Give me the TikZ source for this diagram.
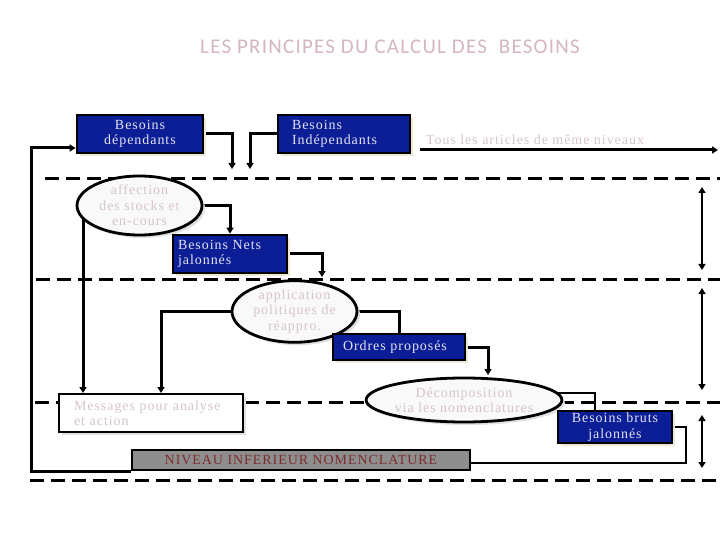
\documentclass[tikz,border=0pt]{standalone}
\usepackage{fontspec}
\setmainfont{Liberation Serif}[LetterSpace=7]
\newfontfamily\titlefont{Carlito}[LetterSpace=6]
\usetikzlibrary{positioning}
\usetikzlibrary{shapes.geometric}
\usetikzlibrary{arrows.meta}
\usetikzlibrary{backgrounds}
\usetikzlibrary{shadows}

\definecolor{boxblue}{RGB}{12,30,150}
\definecolor{boxtext}{RGB}{228,228,242}
\definecolor{palepink}{RGB}{214,196,200}
\definecolor{titlepink}{RGB}{212,182,190}
\definecolor{niveaured}{RGB}{125,45,45}
\definecolor{niveaugray}{RGB}{142,142,142}
\definecolor{ovalfill}{RGB}{249,249,249}
\definecolor{beige}{RGB}{238,232,214}
\definecolor{shadowgray}{RGB}{225,225,222}

\begin{document}
\begin{tikzpicture}[x=1bp, y=-1bp,
    every node/.style = {font=\fontsize{14}{15.5}\selectfont, inner sep=0pt},
    bluebox/.style = {draw, line width=2.8bp, fill=boxblue, text=boxtext,
        drop shadow={fill=beige, opacity=1, shadow xshift=3bp, shadow yshift=-3bp}},
    whitebox/.style = {draw, line width=2.8bp, fill=white, text=palepink,
        drop shadow={fill=shadowgray, opacity=1, shadow xshift=3bp, shadow yshift=-3bp}},
    oval/.style = {draw, ellipse, line width=2.8bp, fill=ovalfill, text=palepink, align=center,
        drop shadow={fill=shadowgray, opacity=1, shadow xshift=3bp, shadow yshift=-3bp}},
    conn/.style = {line width=3bp, -{Triangle[length=6bp,width=7bp]}},
    plain/.style = {line width=3bp},
    thinconn/.style = {line width=2.4bp},
    level/.style = {line width=2.4bp, {Triangle[length=6bp,width=7bp]}-{Triangle[length=6bp,width=7bp]}},
    sep/.style = {line width=3bp, dash pattern=on 14bp off 7bp}]
    \useasboundingbox (0,0) rectangle (720,540);

    \node[text=titlepink, font=\titlefont\fontsize{21}{25}\selectfont] at (390,47) (title) {LES PRINCIPES DU CALCUL DES~~BESOINS} ;

    \node[bluebox, minimum width=126bp, minimum height=38bp, align=center] at (140,134) (dep) {Besoins\\dépendants} ;
    \node[bluebox, text width=104bp, inner xsep=14bp, minimum height=38bp, align=left] at (344,134) (indep) {Besoins\\Indépendants} ;
    \node[text=palepink] at (535,140) (tous) {Tous les articles de même niveaux} ;

    \node[oval, minimum width=125bp, minimum height=59bp] at (139.5,205.5) (affect) {affection\\des stocks et\\en-cours} ;
    \node[bluebox, text width=104bp, inner xsep=5bp, minimum height=38bp, align=left] at (230,254) (nets) {Besoins Nets\\jalonnés} ;
    \node[oval, minimum width=125bp, minimum height=53bp] at (294.5,311.5) (appl) {application\\politiques de\\réappro.} ;
    \node[bluebox, text width=112bp, inner xsep=10bp, minimum height=26bp, align=left] at (399,347) (ordres) {Ordres proposés} ;
    \node[oval, minimum width=190bp, minimum height=44bp] at (464,400) (decomp) {Décomposition\\via les nomenclatures} ;
    \node[whitebox, text width=154bp, inner xsep=15bp, minimum height=38bp, align=left] at (151,413) (msg) {Messages pour analyse\\et action} ;
    \node[bluebox, minimum width=114bp, minimum height=32bp, align=center] at (615,427) (bruts) {Besoins bruts\\jalonnés} ;
    \node[draw, line width=2.8bp, fill=niveaugray, text=niveaured, minimum width=338bp, minimum height=20bp] at (301,460) (niveau) {NIVEAU INFERIEUR NOMENCLATURE} ;

    \coordinate (depin) at (232,169) ;
    \coordinate (indin) at (250,169) ;
    \coordinate (tousA) at (420,150) ;
    \coordinate (tousB) at (718,150) ;
    \coordinate (loop) at (31,148) ;
    \coordinate (netsout) at (322,277) ;
    \coordinate (msgA) at (83,393) ;
    \coordinate (msgB) at (161,393) ;
    \coordinate (decin) at (488,375) ;
    \coordinate (brutsA) at (595,393) ;
    \coordinate (brutsB) at (686,463) ;

    \begin{scope}[on background layer]
        \draw[sep] (45,179) -- (720,179) ;
        \draw[sep] (36,279) -- (720,279) ;
        \draw[sep] (35,402) -- (720,402) ;
        \draw[sep] (30,480) -- (720,480) ;

        \draw[conn] (dep.east) -| (depin) ;
        \draw[conn] (indep.west) -| (indin) ;
        \draw[conn] (tousA) -- (tousB) ;
        \draw[conn] (niveau.south west) -| (loop) -- (dep.west |- loop) ;
        \draw[conn] (affect.east) -| (nets.north) ;
        \draw[conn] (nets.east) -| (netsout) ;
        \draw[conn] (affect.center -| msgA) -- (msgA) ;
        \draw[conn] (appl.west) -| (msgB) ;
        \draw[plain] (appl.east) -| (ordres.north) ;
        \draw[conn] (ordres.east) -| (decin) ;
        \draw[thinconn] (decomp.center |- brutsA) -- (brutsA) -- (bruts.north -| brutsA) ;
        \draw[thinconn] (bruts.east) -| (brutsB) -- (niveau.east |- brutsB) ;

        \draw[level] (702,187) -- (702,270) ;
        \draw[level] (702,288) -- (702,390) ;
        \draw[level] (702,415) -- (702,468) ;
    \end{scope}
\end{tikzpicture}
\end{document}
